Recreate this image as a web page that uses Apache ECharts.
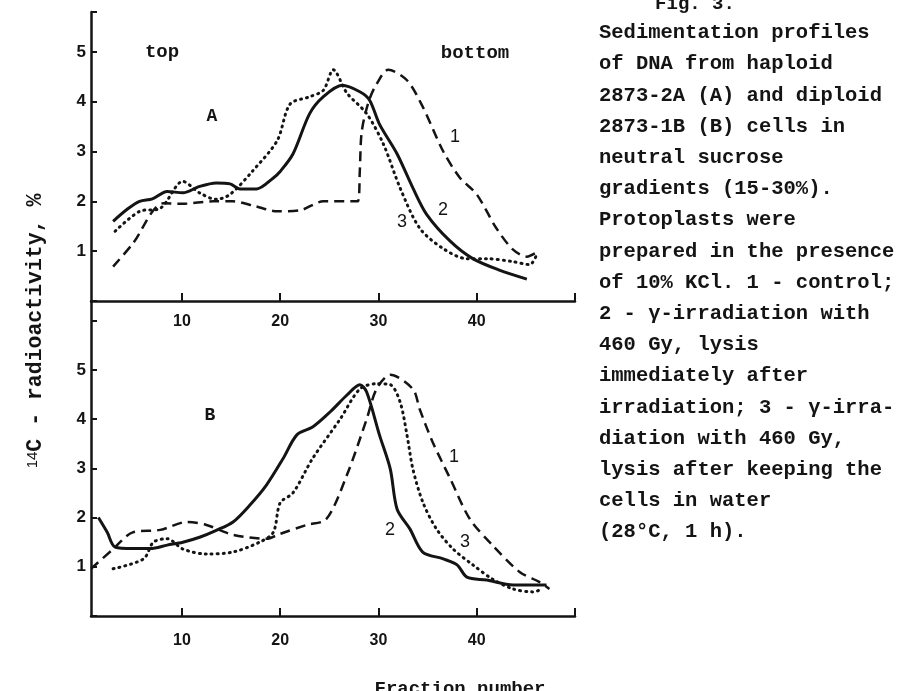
<!DOCTYPE html>
<html>
<head>
<meta charset="utf-8">
<script src="https://cdn.jsdelivr.net/npm/echarts@6/dist/echarts.min.js"></script>
<style>
  html, body { margin: 0; padding: 0; background: #fff; }
  #chart { width: 913px; height: 691px; }
</style>
</head>
<body>
<div id="chart"></div>
<script>
// panel A (haploid)
var a1X = [3, 5, 8.1, 10, 13.2, 15.2, 17.5, 19.7, 22, 24.4, 27.9, 28.1, 28.3, 29, 29.8, 31, 32.9, 34.5, 36.6, 38.3, 40, 42, 43.7, 45.1, 46.2];
var a1Y = [0.69, 1.15, 1.96, 1.95, 2.0, 2.0, 1.9, 1.8, 1.82, 2.0, 2.0, 2.6, 3.4, 4.0, 4.35, 4.64, 4.43, 3.9, 3.0, 2.47, 2.14, 1.46, 1.03, 0.89, 0.99];
var a2X = [3, 4.5, 5.7, 7, 8.5, 10.1, 11.8, 13.5, 14.9, 15.9, 17.6, 19.3, 20, 21.3, 23, 24.4, 26.3, 28.1, 29.1, 30.1, 31.9, 33.5, 34.9, 37.3, 39.6, 42.3, 45.1];
var a2Y = [1.6, 1.85, 2.0, 2.05, 2.2, 2.17, 2.3, 2.37, 2.35, 2.25, 2.25, 2.47, 2.6, 2.95, 3.76, 4.1, 4.33, 4.2, 4.03, 3.55, 2.95, 2.27, 1.74, 1.2, 0.85, 0.62, 0.44];
var a3X = [3.2, 5.7, 7.8, 10.1, 11.8, 13.5, 14.9, 17.2, 19.7, 21, 23, 24.4, 25.4, 26.8, 28.8, 30.5, 32.2, 34.2, 36.6, 39, 41, 43.7, 45.4, 46.1];
var a3Y = [1.4, 1.8, 1.86, 2.4, 2.17, 2.04, 2.14, 2.61, 3.22, 3.95, 4.1, 4.23, 4.64, 4.17, 3.76, 3.15, 2.27, 1.46, 1.05, 0.85, 0.85, 0.79, 0.73, 0.93];

// panel B (diploid)
var b1X = [0.75, 3, 5, 7.8, 10.5, 12.5, 15.2, 18.6, 20, 22.7, 24.7, 26.8, 28.8, 29.8, 31.2, 33.5, 34.2, 35.5, 37.3, 39.3, 41.6, 44.4, 46.4, 47.4];
var b1Y = [0.96, 1.36, 1.7, 1.75, 1.91, 1.85, 1.65, 1.57, 1.67, 1.85, 1.97, 2.87, 4.0, 4.61, 4.9, 4.61, 4.2, 3.54, 2.79, 1.97, 1.44, 0.89, 0.69, 0.55];
var b2X = [1.5, 2.4, 3.2, 5, 6.8, 8.5, 10.1, 11.8, 13.5, 15.2, 16.9, 18.6, 20.3, 21.7, 23.3, 25.1, 26.8, 28.1, 28.8, 30.1, 31.2, 31.9, 33.2, 34.5, 36.6, 38, 39, 41, 43.7, 45.7, 47.1];
var b2Y = [2.0, 1.7, 1.4, 1.37, 1.37, 1.44, 1.5, 1.6, 1.74, 1.91, 2.25, 2.66, 3.2, 3.68, 3.84, 4.15, 4.49, 4.7, 4.55, 3.68, 2.99, 2.17, 1.77, 1.3, 1.16, 1.04, 0.79, 0.73, 0.63, 0.63, 0.63];
var b3X = [3, 6.1, 7.1, 8.5, 10.1, 12.5, 15.2, 17.9, 19.3, 20, 21.3, 23.3, 26.1, 28.1, 29.8, 31.2, 32.2, 32.9, 33.5, 34.5, 35.9, 37.6, 39.6, 41.6, 43.7, 45.7, 46.7];
var b3Y = [0.96, 1.16, 1.5, 1.57, 1.36, 1.26, 1.3, 1.5, 1.7, 2.3, 2.5, 3.2, 4.0, 4.61, 4.72, 4.7, 4.35, 3.68, 2.99, 2.32, 1.77, 1.36, 1.04, 0.75, 0.55, 0.49, 0.55];

var xTicks = [10, 20, 30, 40, 50];
var xLabels = [10, 20, 30, 40];

var caption = [
    'Sedimentation profiles',
    'of DNA from haploid',
    '2873-2A (A) and diploid',
    '2873-1B (B) cells in',
    'neutral sucrose',
    'gradients (15-30%).',
    'Protoplasts were',
    'prepared in the presence',
    'of 10% KCl. 1 - control;',
    '2 - γ-irradiation with',
    '460 Gy, lysis',
    'immediately after',
    'irradiation; 3 - γ-irra-',
    'diation with 460 Gy,',
    'lysis after keeping the',
    'cells in water',
    '(28°C, 1 h).'
];

function pairs(xs, ys) {
    return xs.map(function (x, i) { return [x, ys[i]]; });
}

var ink = '#141414';
var mono = '"Liberation Mono", "DejaVu Sans Mono", monospace';
var sans = '"Liberation Sans", Arial, sans-serif';

function xAxisFor(grid, margin) {
    return {
        type: 'value', gridIndex: grid, min: 0.75, max: 50,
        axisLine: {lineStyle: {color: ink, width: 2.5}},
        axisTick: {inside: true, length: 8, customValues: xTicks, lineStyle: {color: ink, width: 2}},
        axisLabel: {customValues: xLabels, margin: margin, color: ink, fontSize: 16, fontWeight: 'bold', fontFamily: sans},
        splitLine: {show: false}
    };
}

function yAxisFor(grid, max) {
    return {
        type: 'value', gridIndex: grid, min: 0, max: max, interval: 1,
        axisLine: {show: true, lineStyle: {color: ink, width: 2.5}},
        axisTick: {show: true, inside: true, length: 6, lineStyle: {color: ink, width: 2}},
        axisLabel: {
            margin: 5, color: ink, fontSize: 17, fontWeight: 'bold', fontFamily: sans,
            formatter: function (v) { return (v >= 1 && v <= 5) ? v : ''; }
        },
        splitLine: {show: false}
    };
}

function curve(xi, data, kind) {
    var ls = {color: ink, width: 3, type: 'solid'};
    if (kind === 'dash') { ls.width = 2.5; ls.type = [10, 6]; }
    if (kind === 'dot') { ls.width = 3; ls.type = [1, 5]; ls.cap = 'round'; }
    return {
        type: 'line', xAxisIndex: xi, yAxisIndex: xi, data: data,
        smooth: 0.3, symbol: 'none', lineStyle: ls, silent: true
    };
}

function label(text, x, y, font) {
    return {
        type: 'text', x: x, y: y, silent: true,
        style: {text: text, fill: ink, font: font, align: 'center', verticalAlign: 'middle'}
    };
}

var graphics = [
    label('top', 162, 52, 'bold 19px ' + mono),
    label('bottom', 475, 53, 'bold 19px ' + mono),
    label('A', 212, 116, 'bold 18px ' + mono),
    label('B', 210, 415, 'bold 18px ' + mono),
    label('1', 455, 137, '18px ' + sans),
    label('2', 443, 210, '18px ' + sans),
    label('3', 402, 222, '18px ' + sans),
    label('1', 454, 457, '18px ' + sans),
    label('2', 390, 530, '18px ' + sans),
    label('3', 465, 542, '18px ' + sans),
    label('Fraction number', 460, 689, 'bold 19px ' + mono),
    label('Fig. 3.', 695, 4, 'bold 19px ' + mono),
    {
        type: 'text', x: 36, y: 331, rotation: Math.PI / 2, silent: true,
        style: {
            text: '{s|14}C - radioactivity, %', fill: ink,
            font: 'bold 21.5px ' + mono, align: 'center', verticalAlign: 'middle',
            rich: {s: {fontSize: 15, fontFamily: sans, fontWeight: 'normal', verticalAlign: 'top', fill: ink}}
        }
    },
    {
        type: 'text', x: 599, y: 33, silent: true,
        style: {
            text: caption.join('\n'), fill: ink, font: 'bold 20.5px ' + mono,
            lineHeight: 31.2, align: 'left', verticalAlign: 'middle'
        }
    }
];
// caption block is vertically centred on y; shift so first line sits at 33
graphics[graphics.length - 1].y = 33 + (caption.length - 1) * 31.2 / 2;

var chart = echarts.init(document.getElementById('chart'));
chart.setOption({
    backgroundColor: '#fff',
    animation: false,
    grid: [
        {left: 91, top: 12, width: 484, height: 289},
        {left: 91, top: 301, width: 484, height: 315}
    ],
    xAxis: [xAxisFor(0, 13), xAxisFor(1, 17)],
    yAxis: [yAxisFor(0, 5.8), yAxisFor(1, 6.4)],
    series: [
        curve(0, pairs(a1X, a1Y), 'dash'),
        curve(0, pairs(a2X, a2Y), 'solid'),
        curve(0, pairs(a3X, a3Y), 'dot'),
        curve(1, pairs(b1X, b1Y), 'dash'),
        curve(1, pairs(b2X, b2Y), 'solid'),
        curve(1, pairs(b3X, b3Y), 'dot')
    ],
    graphic: graphics
});
</script>
</body>
</html>
